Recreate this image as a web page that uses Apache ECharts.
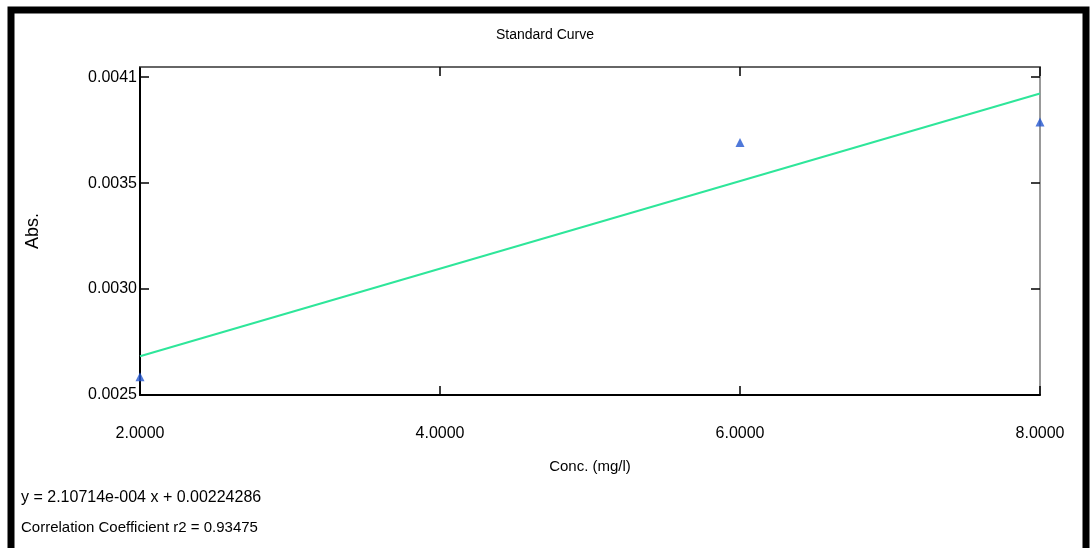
<!DOCTYPE html>
<html>
<head>
<meta charset="utf-8">
<script src="https://cdn.jsdelivr.net/npm/echarts@6/dist/echarts.min.js"></script>
<style>
  html, body { margin: 0; padding: 0; background: #fff; }
  #chart { width: 1090px; height: 548px; }
</style>
</head>
<body>
<div id="chart"></div>
<script>
// standard points
var stdConc = [2, 6, 8];
var stdAbs = [0.00259, 0.00374, 0.00384];
// fitted line ends
var fitConc = [2, 8];
var fitAbs = [0.00269, 0.00398];
// axis ticks
var xTicks = [2, 4, 6, 8];
var yTicks = [0.0025, 0.00302, 0.00354, 0.00406];
var eqText = 'y = 2.10714e-004 x + 0.00224286';
var r2Text = 'Correlation Coefficient r2 = 0.93475';

var font = 'Liberation Sans';
var myChart = echarts.init(document.getElementById('chart'));

function pairs(xs, ys) {
  var out = [];
  for (var i = 0; i < xs.length; i++) out.push([xs[i], ys[i]]);
  return out;
}

var xBase = {
  type: 'value', min: 2, max: 8,
  splitLine: { show: false },
  axisTick: { inside: true, length: 9, customValues: xTicks, lineStyle: { color: '#000', width: 1.5 } },
  axisLabel: { customValues: xTicks, formatter: function (v) { return v.toFixed(4); } }
};
var yBase = {
  type: 'value', min: 0.0025, max: 0.00411,
  splitLine: { show: false },
  axisTick: { inside: true, length: 9, customValues: yTicks, lineStyle: { color: '#000', width: 1.5 } },
  axisLabel: { customValues: yTicks, formatter: function (v) { return v.toFixed(4); } }
};

var option = {
  animation: false,
  backgroundColor: '#fff',
  title: {
    text: 'Standard Curve',
    left: 'center', top: 23,
    textStyle: { fontFamily: font, fontSize: 14, fontWeight: 'normal', color: '#000' }
  },
  grid: { left: 140, right: 50, top: 67, bottom: 153 },
  xAxis: [
    echarts.util.merge({
      position: 'bottom',
      name: 'Conc. (mg/l)', nameLocation: 'middle', nameGap: 64,
      nameTextStyle: { fontFamily: font, fontSize: 15, color: '#000' },
      axisLine: { lineStyle: { color: '#000', width: 2 } },
      axisLabel: { margin: 31, fontFamily: font, fontSize: 16, color: '#000' }
    }, xBase, false),
    echarts.util.merge({
      position: 'top',
      axisLine: { lineStyle: { color: '#666', width: 2 } },
      axisLabel: { show: false }
    }, xBase, false)
  ],
  yAxis: [
    echarts.util.merge({
      position: 'left',
      name: 'Abs.', nameLocation: 'middle', nameGap: 98, nameRotate: 90,
      nameTextStyle: { fontFamily: font, fontSize: 18, color: '#000' },
      axisLine: { lineStyle: { color: '#000', width: 2 } },
      axisLabel: { margin: 3, fontFamily: font, fontSize: 16, color: '#000' }
    }, yBase, false),
    echarts.util.merge({
      position: 'right',
      axisLine: { lineStyle: { color: '#999', width: 2 } },
      axisLabel: { show: false }
    }, yBase, false)
  ],
  graphic: [
    { type: 'rect', shape: { x: 11, y: 10, width: 1075, height: 545 },
      style: { fill: 'none', stroke: '#000', lineWidth: 7 }, z: 100 },
    { type: 'text', left: 21, top: 490,
      style: { text: eqText, fontFamily: font, fontSize: 16, fill: '#000' } },
    { type: 'text', left: 21, top: 520,
      style: { text: r2Text, fontFamily: font, fontSize: 15, fill: '#000' } }
  ],
  series: [
    {
      name: 'fit', type: 'line', data: pairs(fitConc, fitAbs),
      showSymbol: false, lineStyle: { color: '#2ee69a', width: 2 }, z: 2
    },
    {
      name: 'standards', type: 'scatter', data: pairs(stdConc, stdAbs),
      symbol: 'triangle', symbolSize: 9,
      itemStyle: { color: '#2356d0' }, z: 3
    }
  ]
};
myChart.setOption(option);
</script>
</body>
</html>
